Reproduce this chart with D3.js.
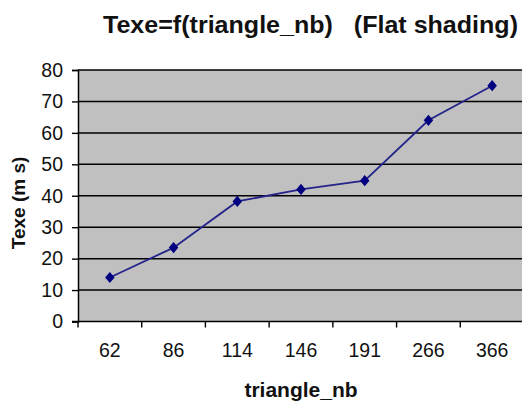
<!DOCTYPE html>
<html><head><meta charset="utf-8">
<script src="https://cdn.jsdelivr.net/npm/d3@7"></script>
<style>body{margin:0;background:#fff;overflow:hidden}</style>
</head><body>
<svg id="c" width="522" height="405"></svg>
<script>
const categories = ["62","86","114","146","191","266","366"];
const texe = [14, 23.5, 38.2, 42, 44.8, 64, 75];
const yTicks = [0,10,20,30,40,50,60,70,80];

const svg = d3.select("#c");
const FONT = "Liberation Sans, Arial, sans-serif";
const L = 78, R = 524, T = 70, B = 321.5;
const x = d3.scaleBand().domain(categories).range([L, R]).padding(0);
const y = d3.scaleLinear().domain([0, 80]).range([B, T]);

svg.append("rect").attr("x", L).attr("y", T).attr("width", R - L).attr("height", B - T).attr("fill", "#c0c0c0");

svg.append("g").selectAll("line").data(yTicks.filter(d => d > 0)).join("line")
  .attr("x1", L).attr("x2", R).attr("y1", d => y(d)).attr("y2", d => y(d))
  .attr("stroke", "#000").attr("stroke-width", 1.5);

const yAxis = svg.append("g").attr("transform", `translate(${L},0)`)
  .call(d3.axisLeft(y).tickValues(yTicks).tickSize(6).tickPadding(9));
yAxis.select(".domain").attr("stroke", "#000").attr("stroke-width", 1.5);
yAxis.selectAll(".tick line").attr("stroke-width", 1.4);
yAxis.selectAll("text").attr("font-family", FONT).attr("font-size", 19.5).attr("fill", "#111");

const xAxis = svg.append("g").attr("transform", `translate(0,${B})`)
  .call(d3.axisBottom(x).tickSize(0).tickPadding(22));
xAxis.select(".domain").remove();
xAxis.selectAll("text").attr("font-family", FONT).attr("font-size", 19.5).attr("fill", "#111");
svg.append("line").attr("x1", L - 6).attr("x2", R).attr("y1", B).attr("y2", B).attr("stroke", "#000").attr("stroke-width", 1.5);
svg.append("g").selectAll("line").data(categories).join("line")
  .attr("x1", d => x(d)).attr("x2", d => x(d)).attr("y1", B).attr("y2", B + 6)
  .attr("stroke", "#000").attr("stroke-width", 1.4);

const line = d3.line().x((d, i) => x(categories[i]) + x.bandwidth() / 2).y(d => y(d));
svg.append("path").datum(texe).attr("d", line).attr("fill", "none").attr("stroke", "#24248a").attr("stroke-width", 1.8);

svg.append("g").selectAll("path").data(texe).join("path")
  .attr("transform", (d, i) => `translate(${x(categories[i]) + x.bandwidth() / 2},${y(d)}) scale(0.85,1)`)
  .attr("d", d3.symbol().type(d3.symbolDiamond2).size(80)())
  .attr("fill", "#000080");

svg.append("text").attr("x", 310.5).attr("y", 32.5).attr("text-anchor", "middle")
  .attr("font-family", FONT).attr("font-weight", "bold").attr("font-size", 24)
  .attr("textLength", 415).attr("lengthAdjust", "spacingAndGlyphs")
  .attr("fill", "#111").attr("xml:space", "preserve").text("Texe=f(triangle_nb)   (Flat shading)");

svg.append("text").attr("transform", "translate(25,203) rotate(-90)").attr("text-anchor", "middle")
  .attr("font-family", FONT).attr("font-weight", "bold").attr("font-size", 19)
  .attr("fill", "#111").text("Texe (m s)");

svg.append("text").attr("x", 301).attr("y", 397).attr("text-anchor", "middle")
  .attr("font-family", FONT).attr("font-weight", "bold").attr("font-size", 21)
  .attr("fill", "#111").text("triangle_nb");
</script>
</body></html>
